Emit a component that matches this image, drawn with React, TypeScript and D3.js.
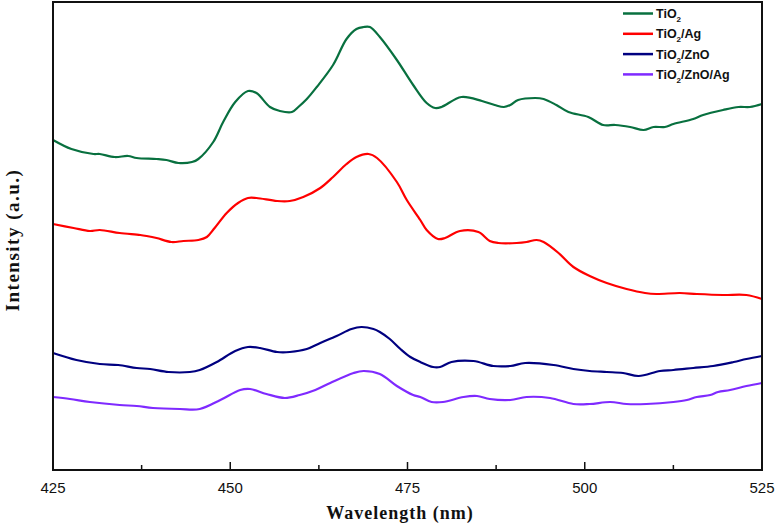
import React, { useEffect, useRef } from 'react';
import * as d3 from 'd3';

// Spectra: [wavelength (nm), intensity (a.u.)]
const tio2: [number, number][] = [
  [425.0, 331], [427.6, 322], [430.7, 317], [431.6, 317], [433.7, 314], [435.6, 315],
  [436.8, 313], [439.6, 312], [441.0, 311], [442.7, 308], [444.6, 309], [445.5, 312],
  [447.6, 329], [449.0, 349], [450.7, 369], [452.5, 380], [453.7, 378], [455.6, 364],
  [457.0, 360], [458.7, 359], [459.6, 364], [460.8, 372], [462.2, 384], [464.5, 406],
  [466.4, 432], [467.8, 442], [468.8, 444], [469.7, 444], [471.1, 434], [473.5, 411],
  [475.8, 386], [477.7, 368], [478.9, 363], [479.8, 364], [482.6, 374], [485.5, 370],
  [487.3, 366], [488.6, 364], [489.5, 366], [490.6, 371], [493.0, 373], [494.2, 372],
  [496.0, 366], [497.7, 359], [500.5, 354], [502.6, 346], [504.3, 346], [506.4, 344],
  [508.3, 341], [509.7, 344], [511.3, 344], [512.5, 347], [515.3, 352], [516.7, 356],
  [519.5, 361], [521.7, 364], [523.3, 364], [525.0, 367],
];

const tio2Ag: [number, number][] = [
  [425.0, 247], [427.9, 243], [430.2, 240], [431.6, 241], [434.4, 238], [437.3, 236],
  [438.2, 235], [439.6, 233], [441.7, 229], [443.4, 230], [445.5, 231], [446.7, 234],
  [447.8, 243], [449.5, 258], [451.1, 268], [452.5, 273], [453.7, 273], [456.6, 270],
  [458.4, 270], [460.3, 274], [462.7, 283], [464.5, 294], [466.4, 307], [467.8, 314],
  [469.5, 317], [470.7, 313], [473.5, 289], [474.9, 271], [476.8, 251], [477.7, 241],
  [479.3, 232], [480.3, 233], [482.4, 240], [485.0, 239], [486.6, 230], [487.8, 228],
  [490.4, 228], [491.8, 229], [493.2, 231], [494.2, 229], [496.3, 218], [498.4, 204],
  [500.7, 195], [503.1, 188], [505.9, 182], [508.5, 178], [510.1, 177], [513.4, 178],
  [515.8, 177], [519.5, 176], [522.8, 176], [525.0, 172],
];

const tio2ZnO: [number, number][] = [
  [425.0, 118], [428.3, 111], [431.6, 107], [434.2, 106], [436.8, 103], [438.7, 102],
  [441.3, 99], [444.3, 99], [445.7, 101], [448.1, 109], [450.7, 120], [452.5, 124],
  [454.2, 123], [456.6, 119], [458.4, 119], [460.8, 122], [462.7, 128], [465.0, 135],
  [467.1, 142], [468.5, 144], [470.2, 142], [471.1, 139], [472.5, 132], [474.0, 122],
  [475.4, 114], [476.8, 109], [478.6, 104], [479.6, 104], [481.2, 109],
  [484.3, 110], [487.1, 105], [489.5, 105], [491.6, 108], [495.6, 106], [498.4, 102],
  [500.7, 100], [503.1, 99], [505.4, 98], [507.6, 95], [510.6, 100], [512.5, 101],
  [515.3, 103], [518.1, 105], [521.0, 109], [522.8, 112], [525.0, 115],
];

const tio2ZnOAg: [number, number][] = [
  [425.0, 74], [427.4, 72], [430.2, 69], [434.4, 66], [436.8, 65], [439.1, 63],
  [442.9, 62], [445.7, 62], [448.6, 71], [451.4, 81], [452.8, 82], [455.1, 77],
  [457.7, 73], [459.8, 76], [462.0, 81], [464.1, 88], [467.4, 98], [468.8, 100],
  [471.1, 97], [473.5, 85], [475.8, 76], [476.8, 74], [478.4, 69], [480.0, 69],
  [482.9, 74], [484.8, 75], [486.6, 72], [489.5, 71], [491.8, 74], [495.1, 73],
  [498.4, 67], [500.7, 67], [503.6, 69], [505.9, 67], [508.7, 67], [512.5, 69],
  [514.4, 71], [515.8, 74], [517.7, 76], [518.8, 79], [520.5, 81], [522.8, 85],
  [525.0, 88],
];

const seriesNames = [['TiO', '2', ''], ['TiO', '2', '/Ag'], ['TiO', '2', '/ZnO'], ['TiO', '2', '/ZnO/Ag']];
const seriesColors = ['#08703f', '#ff0000', '#000080', '#7f2aff'];
const seriesData = [tio2, tio2Ag, tio2ZnO, tio2ZnOAg];

const xMajorTicks = [425, 450, 475, 500, 525];
const xMinorTicks = [437.5, 462.5, 487.5, 512.5];

const App = () => {
  const svgRef = useRef<SVGSVGElement>(null);

  useEffect(() => {
    const svg = d3.select(svgRef.current);
    svg.selectAll('*').remove();

    const width = 776;
    const height = 527;
    const plot = { left: 53, right: 762, top: 2, bottom: 470 };

    const x = d3.scaleLinear().domain([425, 525]).range([plot.left, plot.right]);
    const y = d3.scaleLinear().domain([0, 469]).range([471, 2]);

    svg.attr('width', width).attr('height', height);

    const line = d3.line<[number, number]>()
      .x(d => x(d[0]))
      .y(d => y(d[1]))
      .curve(d3.curveCatmullRom.alpha(0.5));

    // curves
    seriesData.forEach((data, i) => {
      svg.append('path')
        .datum(data)
        .attr('d', line)
        .attr('fill', 'none')
        .attr('stroke', seriesColors[i])
        .attr('stroke-width', 2.2)
        .attr('stroke-linejoin', 'round');
    });

    // frame
    svg.append('rect')
      .attr('x', plot.left)
      .attr('y', plot.top)
      .attr('width', plot.right - plot.left)
      .attr('height', plot.bottom - plot.top)
      .attr('fill', 'none')
      .attr('stroke', '#111')
      .attr('stroke-width', 2);

    // inward ticks
    svg.selectAll('.major')
      .data(xMajorTicks)
      .enter().append('line')
      .attr('x1', d => x(d)).attr('x2', d => x(d))
      .attr('y1', plot.bottom).attr('y2', plot.bottom - 8)
      .attr('stroke', '#111').attr('stroke-width', 1.5);

    svg.selectAll('.minor')
      .data(xMinorTicks)
      .enter().append('line')
      .attr('x1', d => x(d)).attr('x2', d => x(d))
      .attr('y1', plot.bottom).attr('y2', plot.bottom - 5)
      .attr('stroke', '#111').attr('stroke-width', 1.5);

    svg.selectAll('.tick-label')
      .data(xMajorTicks)
      .enter().append('text')
      .attr('x', d => x(d))
      .attr('y', 493)
      .attr('text-anchor', 'middle')
      .attr('font-family', '"Liberation Sans", Arial, sans-serif')
      .attr('font-size', '15px')
      .attr('fill', '#111')
      .text(d => d);

    // axis titles
    svg.append('text')
      .attr('x', 400)
      .attr('y', 519)
      .attr('text-anchor', 'middle')
      .attr('font-family', '"Liberation Serif", "Times New Roman", serif')
      .attr('font-weight', 'bold')
      .attr('font-size', '18px')
      .attr('letter-spacing', '1px')
      .attr('fill', '#111')
      .text('Wavelength (nm)');

    svg.append('text')
      .attr('transform', 'translate(19,240) rotate(-90)')
      .attr('text-anchor', 'middle')
      .attr('font-family', '"Liberation Serif", "Times New Roman", serif')
      .attr('font-weight', 'bold')
      .attr('font-size', '19px')
      .attr('letter-spacing', '1.5px')
      .attr('fill', '#111')
      .text('Intensity (a.u.)');

    // legend
    const legend = svg.append('g');
    seriesNames.forEach((name, i) => {
      const ly = 13.5 + i * 20.3;
      legend.append('line')
        .attr('x1', 623).attr('x2', 653)
        .attr('y1', ly).attr('y2', ly)
        .attr('stroke', seriesColors[i])
        .attr('stroke-width', 2.5);
      const t = legend.append('text')
        .attr('x', 656)
        .attr('y', ly + 4.5)
        .attr('font-family', '"Liberation Sans", Arial, sans-serif')
        .attr('font-weight', 'bold')
        .attr('font-size', '12.5px')
        .attr('fill', '#111');
      t.append('tspan').text(name[0]);
      t.append('tspan').attr('font-size', '8px').attr('dy', 4).text(name[1]);
      if (name[2]) t.append('tspan').attr('dy', -4).text(name[2]);
    });
  }, []);

  return (
    <div style={{ position: 'absolute', left: 0, top: 0, background: '#fff' }}>
      <svg ref={svgRef} style={{ display: 'block' }}></svg>
    </div>
  );
};

export default App;
